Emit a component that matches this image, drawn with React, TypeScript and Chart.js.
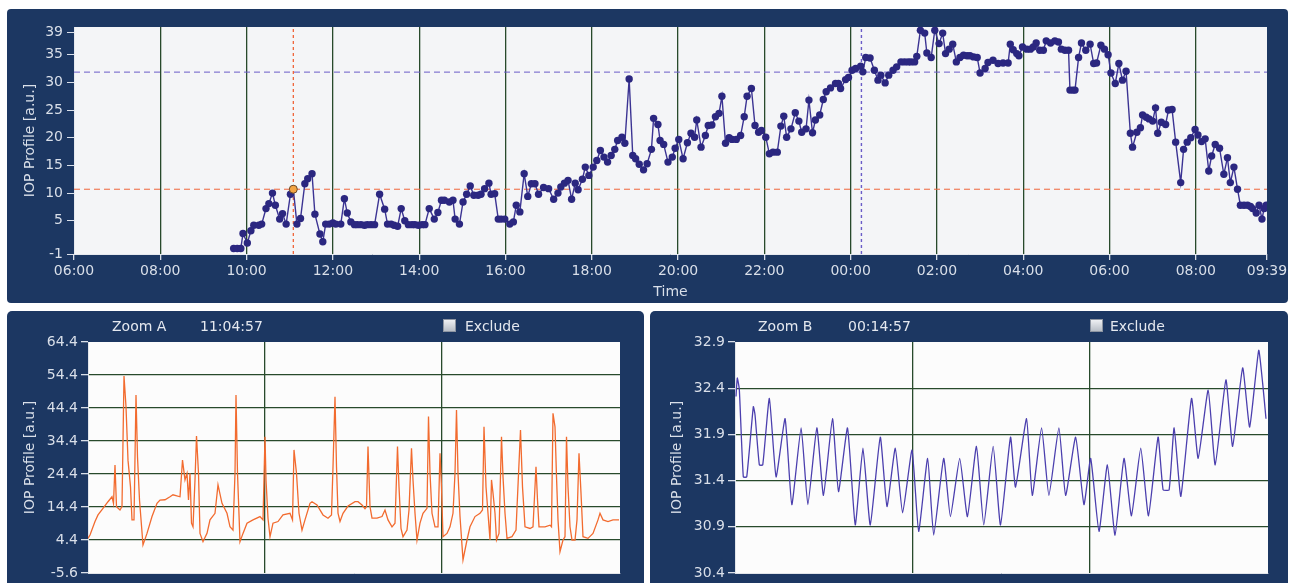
import React, { useEffect, useRef } from 'react';
import { Chart, registerables } from 'chart.js';

Chart.register(...registerables);

const FONT = 'DejaVu Sans';
const NAVY = '#1c3762';
const TEXT = '#d9dfe9';
const GREEN = '#284a2c';

// ---------- Top chart: IOP profile over time (minutes since 06:00) ----------
const xTickMinutes = [0, 120, 240, 360, 480, 600, 720, 840, 960, 1080, 1200, 1320, 1440, 1560, 1659];
const xTickLabels = ['06:00', '08:00', '10:00', '12:00', '14:00', '16:00', '18:00', '20:00', '22:00', '00:00', '02:00', '04:00', '06:00', '08:00', '09:39'];
const yTicksTop = [-1, 5, 10, 15, 20, 25, 30, 35, 39];

const sampleMinutes = [
  222, 227, 232, 235, 241, 246, 250, 257, 261, 267, 271, 276, 280, 286, 290, 295, 301, 305, 310, 315,
  321, 325, 331, 335, 342, 346, 350, 355, 360, 364, 371, 376, 380, 385, 390, 394, 399, 404, 408, 413,
  418, 425, 432, 436, 441, 445, 450, 455, 460, 465, 470, 474, 479, 484, 488, 494, 501, 506, 511, 515,
  522, 527, 530, 536, 541, 546, 551, 556, 562, 566, 571, 577, 580, 585, 590, 594, 599, 606, 611, 615,
  620, 626, 631, 636, 641, 646, 653, 660, 667, 673, 677, 682, 687, 692, 697, 701, 707, 711, 716, 722,
  727, 732, 737, 742, 747, 752, 756, 762, 766, 772, 777, 781, 786, 792, 797, 803, 806, 812, 815, 820,
  826, 832, 836, 841, 847, 853, 858, 863, 866, 872, 878, 882, 887, 892, 897, 901, 906, 911, 915, 921,
  927, 932, 936, 942, 947, 952, 956, 962, 967, 972, 978, 983, 987, 991, 997, 1003, 1008, 1012, 1018, 1022,
  1027, 1031, 1037, 1042, 1046, 1052, 1059, 1063, 1066, 1073, 1077, 1082, 1087, 1094, 1097, 1101, 1107, 1113, 1118, 1122,
  1128, 1133, 1139, 1144, 1150, 1155, 1160, 1164, 1169, 1172, 1177, 1183, 1186, 1192, 1197, 1203, 1208, 1212, 1217, 1222,
  1227, 1232, 1237, 1242, 1246, 1251, 1256, 1260, 1267, 1271, 1278, 1285, 1292, 1299, 1302, 1306, 1311, 1314, 1319, 1325,
  1330, 1334, 1338, 1343, 1348, 1352, 1358, 1364, 1369, 1373, 1378, 1383, 1385, 1389, 1392, 1397, 1401, 1407, 1413, 1418,
  1422, 1428, 1433, 1438, 1442, 1448, 1453, 1458, 1463, 1469, 1472, 1478, 1483, 1486, 1491, 1495, 1500, 1504, 1507, 1512,
  1518, 1522, 1527, 1532, 1539, 1543, 1548, 1553, 1559, 1563, 1568, 1573, 1578, 1582, 1587, 1593, 1599, 1604, 1608, 1613,
  1618, 1622, 1627, 1632, 1636, 1639, 1644, 1648, 1652, 1655, 1658,
];

const iopValues = [
  0.0, 0.0, 0.0, 2.7, 1.0, 3.2, 4.2, 4.2, 4.4, 7.2, 8.1, 10.0, 7.8, 5.3, 6.3, 4.4, 9.8, 10.7, 4.4, 5.4,
  11.7, 12.6, 13.5, 6.2, 2.6, 1.2, 4.4, 4.4, 4.6, 4.4, 4.4, 9.0, 6.4, 4.8, 4.3, 4.3, 4.3, 4.2, 4.3, 4.3,
  4.3, 9.8, 7.1, 4.4, 4.4, 4.2, 4.0, 7.2, 5.0, 4.3, 4.3, 4.3, 4.2, 4.3, 4.3, 7.2, 5.3, 6.5, 8.7, 8.7,
  8.4, 8.7, 5.3, 4.4, 8.4, 9.8, 11.3, 9.6, 9.6, 9.8, 10.8, 11.8, 9.8, 9.9, 5.3, 5.3, 5.3, 4.4, 4.8, 7.8,
  6.6, 13.5, 9.4, 11.7, 11.7, 9.8, 11.0, 10.8, 8.9, 10.0, 11.1, 11.8, 12.3, 8.9, 11.8, 10.6, 12.5, 14.7, 13.2, 14.7,
  15.9, 17.7, 16.5, 15.6, 16.8, 17.9, 19.5, 20.1, 19.0, 30.6, 16.8, 16.2, 15.2, 14.2, 15.3, 17.9, 23.5, 22.4, 19.5, 18.8,
  15.6, 16.5, 18.1, 19.7, 16.2, 19.1, 20.8, 20.1, 23.2, 18.3, 20.4, 22.2, 22.3, 23.8, 24.4, 27.5, 19.0, 20.0, 19.7, 19.7,
  20.4, 23.8, 27.5, 28.9, 22.2, 21.0, 21.3, 20.1, 17.1, 17.4, 17.4, 22.1, 23.9, 20.1, 21.6, 24.5, 23.0, 21.0, 21.6, 26.8,
  20.9, 23.2, 24.1, 26.9, 28.3, 29.0, 29.8, 29.8, 28.9, 30.5, 30.9, 32.2, 32.5, 32.9, 31.9, 34.5, 34.4, 32.2, 30.4, 31.3,
  29.9, 31.3, 32.2, 32.8, 33.7, 33.7, 33.7, 33.7, 33.7, 34.7, 39.4, 38.9, 35.3, 34.5, 39.4, 37.0, 38.9, 35.2, 36.0, 36.9,
  33.7, 34.5, 34.9, 34.8, 34.8, 34.6, 34.5, 31.7, 32.5, 33.6, 34.0, 33.4, 33.5, 33.5, 36.9, 35.9, 35.2, 34.8, 36.4, 36.0,
  36.0, 36.4, 37.1, 35.8, 35.8, 37.5, 37.1, 37.5, 37.3, 36.0, 35.8, 35.8, 28.6, 28.6, 28.6, 34.5, 37.1, 35.8, 36.9, 33.4,
  33.5, 36.7, 36.0, 35.0, 31.7, 29.8, 33.4, 30.4, 32.0, 20.8, 18.3, 21.0, 21.8, 24.1, 23.7, 23.4, 23.0, 25.4, 20.8, 22.8,
  22.4, 25.0, 25.1, 19.2, 11.9, 17.9, 19.2, 20.0, 21.5, 20.5, 19.3, 19.8, 14.0, 16.7, 18.8, 18.1, 13.4, 16.4, 11.9, 14.7,
  10.7, 7.8, 7.8, 7.8, 7.6, 7.2, 6.4, 7.8, 5.3, 7.2, 7.8,
];

const cursorAMinute = 305; // 11:04:57
const cursorAValue = 10.7;
const cursorBMinute = 1095; // 00:14:57
const cursorBValue = 31.85;

// ---------- Zoom A ----------
const zoomAYTicks = [-5.6, 4.4, 14.4, 24.4, 34.4, 44.4, 54.4, 64.4];
const zoomXTicks = [0, 177, 354, 532];
const zoomAOffsets = [
  0, 2, 7, 10, 15, 20, 24, 25.5, 27, 28.5, 32, 34, 36, 38, 40, 42.5, 44, 46, 48, 49.5,
  51.5, 55, 59, 64, 69, 72, 77, 82, 85, 92, 94.5, 97, 99, 100.5, 102, 103.5, 105, 107, 108.5, 110.5,
  112, 115, 119, 122, 127, 130, 134, 139, 142, 145, 147, 148, 149.5, 152, 155, 159, 165, 172, 175, 177,
  178, 180, 182, 185, 190, 195, 202, 204.5, 206, 208.5, 211, 214, 217, 222, 224, 229, 235, 240, 243.5, 245,
  247, 248.5, 250, 252, 255, 260, 267, 270, 274, 277, 278.5, 280, 282, 284, 289, 294, 297, 300, 304, 307,
  309.5, 311, 313, 315, 319, 321, 323.5, 325, 327, 329, 332, 335, 339, 340.5, 342, 344, 347, 350, 352, 353.5,
  355, 359, 362, 365, 367, 368.5, 370, 372, 375, 379, 382, 387, 392, 394.5, 396, 398, 400, 402, 403.5, 405,
  407, 408.5, 411, 413.5, 415, 417, 419, 424, 428, 432.5, 434.5, 437, 442, 445, 448, 449.5, 451, 457, 462, 463.5,
  465, 467, 468.5, 470, 472, 475, 477, 478.5, 480, 482, 484, 487, 489, 491, 493, 495, 500, 505, 510, 512,
  515, 520, 525, 531,
];
const zoomAValues = [
  4.9, 5.9, 10.0, 12.0, 14.0, 16.0, 17.5, 15.5, 27.1, 14.5, 13.5, 14.5, 54.1, 44.8, 28.6, 20.5, 10.5, 10.5, 48.3, 29.6,
  16.5, 2.9, 6.4, 11.5, 15.5, 16.5, 16.6, 17.5, 18.1, 17.5, 28.6, 22.6, 24.6, 16.5, 24.6, 9.5, 8.4, 22.6, 35.9, 24.6,
  6.4, 3.9, 6.4, 10.5, 12.5, 21.1, 15.5, 12.5, 8.4, 7.4, 24.6, 48.3, 24.6, 3.9, 6.4, 9.5, 10.5, 11.5, 10.5, 35.7,
  22.6, 11.0, 5.4, 9.5, 10.0, 12.0, 12.5, 10.5, 31.7, 24.6, 12.5, 7.4, 10.5, 15.5, 16.0, 15.0, 12.0, 11.0, 12.0, 26.6,
  47.8, 26.6, 12.5, 10.0, 12.5, 14.7, 16.0, 16.0, 15.0, 13.9, 14.5, 32.7, 14.5, 11.0, 11.0, 11.5, 13.5, 10.5, 8.4, 9.5,
  32.7, 20.5, 7.9, 5.4, 7.4, 13.5, 32.2, 22.6, 12.5, 4.4, 9.5, 12.5, 14.0, 41.8, 24.6, 12.5, 8.4, 8.4, 30.7, 20.5,
  5.4, 6.4, 8.4, 12.5, 24.6, 43.8, 24.6, 11.5, -1.6, 4.4, 8.4, 11.5, 12.5, 13.5, 38.7, 20.5, 12.5, 4.4, 22.6, 18.6,
  12.5, 4.4, 6.4, 35.7, 23.6, 12.5, 4.9, 5.4, 7.4, 37.7, 20.5, 8.4, 7.9, 8.4, 26.6, 16.5, 8.4, 8.4, 8.9, 8.4,
  42.8, 38.7, 23.6, 10.5, 0.9, 4.4, 5.4, 35.7, 20.5, 8.4, 4.4, 4.4, 10.5, 30.7, 18.6, 5.4, 4.9, 6.4, 10.5, 12.5,
  10.5, 10.0, 10.5, 10.5,
];

// ---------- Zoom B ----------
const zoomBYTicks = [30.4, 30.9, 31.4, 31.9, 32.4, 32.9];
const zoomBOffsets = [
  1, 2.3, 4.3, 8.3, 11.7, 18.3, 20, 24.3, 27.7, 34.3, 41, 50, 56.7, 66, 72.7, 81.7, 88.3, 97.3, 103.3, 112.3,
  120, 127.7, 135, 145, 151.7, 160, 167.3, 176.7, 183.3, 192.3, 198.3, 208.3, 215, 224.3, 232, 241, 248.3, 257.7, 265, 275,
  280, 291, 296.7, 306, 313.3, 323.3, 330, 340, 348.3, 355, 363.3, 371.7, 379.3, 388.3, 395.7, 405, 412.7, 422.3, 427.3, 433.3,
  438.3, 445, 455.7, 462.3, 472.3, 479.3, 490, 496.7, 506.7, 513.7, 522.7, 526.7, 530,
];
const zoomBValues = [
  32.31, 32.51, 32.39, 31.44, 31.44, 32.2, 32.11, 31.57, 31.57, 32.29, 31.44, 32.07, 31.14, 31.97, 31.14, 31.97, 31.24, 32.07, 31.28, 31.97,
  30.92, 31.75, 30.92, 31.87, 31.12, 31.75, 31.05, 31.73, 30.85, 31.64, 30.81, 31.64, 31.01, 31.64, 31.01, 31.77, 30.92, 31.77, 30.92, 31.87,
  31.33, 32.07, 31.24, 31.97, 31.24, 31.97, 31.24, 31.87, 31.14, 31.64, 30.85, 31.57, 30.81, 31.64, 31.02, 31.75, 31.02, 31.87, 31.3, 31.3,
  31.97, 31.23, 32.29, 31.64, 32.38, 31.57, 32.49, 31.77, 32.62, 31.98, 32.81, 32.45, 32.07,
];

// ---------- helpers ----------
const plotBg = {
  id: 'plotBg',
  beforeDraw(chart: any, _args: any, opts: any) {
    const { ctx, chartArea } = chart;
    if (!chartArea) return;
    ctx.save();
    ctx.fillStyle = opts.color || '#ffffff';
    ctx.fillRect(chartArea.left, chartArea.top, chartArea.width, chartArea.height);
    ctx.restore();
  },
};

const interiorColor = (count: number) => (ctx: any) =>
  ctx.index > 0 && ctx.index < count - 1 ? GREEN : 'rgba(0,0,0,0)';

function pts(xs: number[], ys: number[]) {
  return xs.map((x, i) => ({ x, y: ys[i] }));
}

function buildTop(): any {
  return {
    type: 'line',
    data: {
      datasets: [
        {
          label: 'cursor',
          data: [{ x: cursorAMinute, y: cursorAValue }],
          showLine: false,
          pointRadius: 4,
          pointBackgroundColor: '#f3a443',
          pointBorderColor: '#6b4a2a',
          pointBorderWidth: 1,
        },
        {
          label: 'IOP',
          data: pts(sampleMinutes, iopValues),
          borderColor: '#3b3393',
          borderWidth: 1.4,
          pointRadius: 3.7,
          pointBackgroundColor: '#2b2780',
          pointBorderWidth: 0,
          tension: 0,
        },
        {
          label: 'refA-h',
          data: [{ x: 0, y: cursorAValue }, { x: 1659, y: cursorAValue }],
          borderColor: '#f0643a',
          borderWidth: 1,
          borderDash: [6, 4],
          pointRadius: 0,
        },
        {
          label: 'refB-h',
          data: [{ x: 0, y: cursorBValue }, { x: 1659, y: cursorBValue }],
          borderColor: '#6a5cc8',
          borderWidth: 1,
          borderDash: [6, 4],
          pointRadius: 0,
        },
        {
          label: 'refA-v',
          data: [{ x: cursorAMinute, y: -1 }, { x: cursorAMinute, y: 40 }],
          borderColor: '#f0643a',
          borderWidth: 1.3,
          borderDash: [3, 3],
          pointRadius: 0,
        },
        {
          label: 'refB-v',
          data: [{ x: cursorBMinute, y: -1 }, { x: cursorBMinute, y: 40 }],
          borderColor: '#6a5cc8',
          borderWidth: 1.4,
          borderDash: [3, 3],
          pointRadius: 0,
        },
      ],
    },
    options: {
      animation: false,
      responsive: false,
      maintainAspectRatio: false,
      layout: { padding: { top: 18, right: 21, left: 0, bottom: 0 } },
      plugins: { legend: { display: false }, tooltip: { enabled: false }, plotBg: { color: '#f4f5f7' } },
      scales: {
        x: {
          type: 'linear',
          min: 0,
          max: 1659,
          afterBuildTicks: (s: any) => { s.ticks = xTickMinutes.map((v) => ({ value: v })); },
          afterFit: (s: any) => { s.height = 49; s.paddingLeft = 0; s.paddingRight = 0; },
          ticks: {
            autoSkip: false, maxRotation: 0, minRotation: 0, padding: 3,
            color: TEXT, font: { family: FONT, size: 14 },
            callback: (_v: any, i: number) => xTickLabels[i],
          },
          grid: { color: interiorColor(xTickMinutes.length), lineWidth: 1.3, tickColor: TEXT, tickLength: 6 },
          border: { color: '#e6e9ee', width: 1 },
          title: { display: true, text: 'Time', color: TEXT, font: { family: FONT, size: 14 }, padding: { top: 0, bottom: 2 } },
        },
        y: {
          type: 'linear',
          min: -1,
          max: 40,
          afterBuildTicks: (s: any) => { s.ticks = yTicksTop.map((v) => ({ value: v })); },
          afterFit: (s: any) => { s.width = 67; s.paddingTop = 0; s.paddingBottom = 0; },
          ticks: { color: TEXT, font: { family: FONT, size: 14 }, padding: 4, callback: (v: any) => String(v) },
          grid: { drawOnChartArea: false, tickColor: TEXT, tickLength: 7 },
          border: { color: '#e6e9ee', width: 1 },
          title: { display: true, text: 'IOP Profile [a.u.]', color: TEXT, font: { family: FONT, size: 14 }, padding: { top: 15, bottom: 0 } },
        },
      },
    },
    plugins: [plotBg],
  };
}

function buildZoom(xs: number[], ys: number[], yTicks: number[], color: string, yWidth: number, padRight: number, titlePad: number, tension: number): any {
  return {
    type: 'line',
    data: {
      datasets: [
        {
          data: pts(xs, ys),
          borderColor: color,
          borderWidth: 1.3,
          pointRadius: 0,
          tension,
        },
      ],
    },
    options: {
      animation: false,
      responsive: false,
      maintainAspectRatio: false,
      layout: { padding: { top: 31, right: padRight, left: 0, bottom: 0 } },
      plugins: { legend: { display: false }, tooltip: { enabled: false }, plotBg: { color: '#fcfcfc' } },
      scales: {
        x: {
          type: 'linear',
          min: 0,
          max: 532,
          afterBuildTicks: (s: any) => { s.ticks = zoomXTicks.map((v) => ({ value: v })); },
          afterFit: (s: any) => { s.height = 10; s.paddingLeft = 0; s.paddingRight = 0; },
          ticks: { display: false },
          grid: { color: interiorColor(zoomXTicks.length), lineWidth: 1.3, drawTicks: false },
          border: { color: '#e2e5ea', width: 1 },
        },
        y: {
          type: 'linear',
          min: yTicks[0],
          max: yTicks[yTicks.length - 1],
          afterBuildTicks: (s: any) => { s.ticks = yTicks.map((v) => ({ value: v })); },
          afterFit: (s: any) => { s.width = yWidth; s.paddingTop = 0; s.paddingBottom = 0; },
          ticks: { color: TEXT, font: { family: FONT, size: 14 }, padding: 3, callback: (v: any) => Number(v).toFixed(1) },
          grid: { color: interiorColor(yTicks.length), lineWidth: 1.3, tickColor: TEXT, tickLength: 7 },
          border: { color: '#e2e5ea', width: 1 },
          title: { display: true, text: 'IOP Profile [a.u.]', color: TEXT, font: { family: FONT, size: 14 }, padding: { top: titlePad, bottom: 0 } },
        },
      },
    },
    plugins: [plotBg],
  };
}

function ChartCanvas(props: { left: number; top: number; width: number; height: number; build: () => any }) {
  const ref = useRef<HTMLCanvasElement | null>(null);
  useEffect(() => {
    const chart = new Chart(ref.current as HTMLCanvasElement, props.build());
    return () => chart.destroy();
  }, []);
  return (
    <canvas
      ref={ref}
      width={props.width}
      height={props.height}
      style={{ position: 'absolute', left: props.left, top: props.top, width: props.width, height: props.height }}
    />
  );
}

const label = (left: number, text: string) => (
  <span
    style={{
      position: 'absolute', left, top: 318, fontFamily: FONT, fontSize: 14, lineHeight: '16px',
      color: '#e4e8ef', whiteSpace: 'nowrap',
    }}
  >
    {text}
  </span>
);

const checkbox = (left: number) => (
  <div
    style={{
      position: 'absolute', left, top: 319, width: 13, height: 13, boxSizing: 'border-box',
      border: '1px solid #8d95a2', background: 'linear-gradient(#eef0f3, #b8bec7)',
    }}
  />
);

export default function App() {
  Chart.defaults.font.family = FONT;
  return (
    <div style={{ position: 'absolute', left: 0, top: 0, width: 1291, height: 583, overflow: 'hidden', background: '#ffffff' }}>
      <div style={{ position: 'absolute', left: 7, top: 9, width: 1281, height: 294, background: NAVY, borderRadius: 4 }} />
      <div style={{ position: 'absolute', left: 7, top: 311, width: 637, height: 290, background: NAVY, borderRadius: 5 }} />
      <div style={{ position: 'absolute', left: 650, top: 311, width: 638, height: 290, background: NAVY, borderRadius: 5 }} />

      <ChartCanvas left={7} top={9} width={1281} height={294} build={buildTop} />
      <ChartCanvas
        left={7} top={311} width={637} height={272}
        build={() => buildZoom(zoomAOffsets, zoomAValues, zoomAYTicks, '#f26b2f', 81, 24, 15, 0)}
      />
      <ChartCanvas
        left={650} top={311} width={638} height={272}
        build={() => buildZoom(zoomBOffsets, zoomBValues, zoomBYTicks, '#4b3fae', 85, 20, 19, 0.15)}
      />

      {label(112, 'Zoom A')}
      {label(200, '11:04:57')}
      {checkbox(443)}
      {label(465, 'Exclude')}
      {label(758, 'Zoom B')}
      {label(848, '00:14:57')}
      {checkbox(1090)}
      {label(1110, 'Exclude')}
    </div>
  );
}
